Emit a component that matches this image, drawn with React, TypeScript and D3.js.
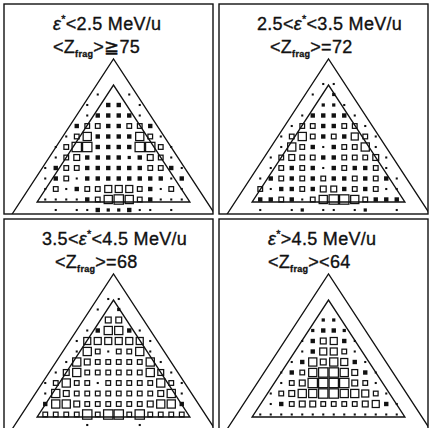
import React from "react";
import * as d3 from "d3";

// Box-histogram contents on the triangular grid, one string per row (top row first),
// one digit per column (18 columns, left to right). 0 = empty bin.
const ROWS_E_BELOW_2_5: string[] = [
  "000000000000000000",
  "000000010010000000",
  "000000103301000000",
  "000000133331000000",
  "000003443344300000",
  "000014733337410000",
  "000148833338841000",
  "000145333323541000",
  "001344333333443100",
  "001341333333331300",
  "001413446664314100",
  "001111347874311100",
  "000101132231101000",
];

const ROWS_E_2_5_TO_3_5: string[] = [
  "000000001100000000",
  "000000010200000000",
  "000000002210000000",
  "000000133331000000",
  "000001443344100000",
  "000014743436410000",
  "000017431344710000",
  "000145443344451000",
  "000143431343341000",
  "001343434334343100",
  "004133435534341100",
  "003343147887433300",
  "001001201101200100",
];

const ROWS_E_3_5_TO_4_5: string[] = [
  "000000001100000000",
  "000000010200000000",
  "000000005500000000",
  "000000137731000000",
  "000001666666100000",
  "000001741447100000",
  "000017544444710000",
  "000157444444751000",
  "001474414444474100",
  "001754444444457100",
  "003775444444577300",
  "004444848848444400",
  "000000100001000000",
];

const ROWS_E_ABOVE_4_5: string[] = [
  "000000000000000000",
  "000000000000000000",
  "000000002200000000",
  "000000023320000000",
  "000000135631000000",
  "000000136641000000",
  "000001375763100000",
  "000013478875310000",
  "000014588885410000",
  "000145778877641000",
  "000134554444563100",
  "001111111111111100",
  "000000000000000000",
];

// Panel captions: excitation-energy window and mean fragment charge
const EPS_PREFIX: string[] = ["", "2.5<", "3.5<", ""];
const EPS_SUFFIX: string[] = ["<2.5 MeV/u", "<3.5 MeV/u", "<4.5 MeV/u", ">4.5 MeV/u"];
const ZFRAG_RELATION: string[] = ["\u226775", "=72", "=68", "<64"];

const PANEL_ROWS: string[][] = [
  ROWS_E_BELOW_2_5,
  ROWS_E_2_5_TO_3_5,
  ROWS_E_3_5_TO_4_5,
  ROWS_E_ABOVE_4_5,
];

// Layout
const W = 431;
const H = 428;
const PANEL_W = 209;
const PANEL_H = 210;
const PANEL_ORIGINS: [number, number][] = [
  [4, 4],
  [219, 4],
  [4, 219],
  [219, 219],
];
const TITLE_X: [number, number][] = [
  [49, 49],
  [38, 51],
  [38, 51],
  [49, 49],
];
const TITLE_Y: [number, number] = [26, 49];
const CELL = 10.5;
const CX = 109.5;
const ROW0_Y = 80;
const SLOPE = 1.53; // rows per column along the triangle sides
const INNER_APEX_ROW = 0.1;
const INNER_BASE_ROW = 11.24;
const OUTER_APEX_ROW = -2.38;
const OUTER_LOW_ROW = 13.2;
const INK = "#111";
const FONT = "'Liberation Sans', Arial, Helvetica, sans-serif";

export default function App() {
  const xCol = d3.scaleLinear().domain([0, 1]).range([CX, CX + CELL]);
  const yRow = d3.scaleLinear().domain([0, 1]).range([ROW0_Y, ROW0_Y + CELL]);
  const side = d3.scaleLinear().domain([0, 9]).range([0, CELL]);
  const line = d3
    .line<[number, number]>()
    .x((d) => xCol(d[0]))
    .y((d) => yRow(d[1]));

  const innerHalf = (INNER_BASE_ROW - INNER_APEX_ROW) / SLOPE;
  const outerHalf = (OUTER_LOW_ROW - OUTER_APEX_ROW) / SLOPE;
  const innerPath =
    line([
      [-innerHalf, INNER_BASE_ROW],
      [0, INNER_APEX_ROW],
      [innerHalf, INNER_BASE_ROW],
    ]) + "Z";
  const outerPath = line([
    [-outerHalf, OUTER_LOW_ROW],
    [0, OUTER_APEX_ROW],
    [outerHalf, OUTER_LOW_ROW],
  ]);

  return (
    <svg
      width={W}
      height={H}
      viewBox={`0 0 ${W} ${H}`}
      style={{ position: "absolute", left: 0, top: 0, background: "#fff" }}
    >
      <rect x={0} y={0} width={W} height={H} fill="#fff" />
      <defs>
        <clipPath id="panel-clip">
          <rect x={0} y={0} width={PANEL_W} height={PANEL_H} />
        </clipPath>
      </defs>
      {PANEL_ROWS.map((rows, p) => {
        const [ox, oy] = PANEL_ORIGINS[p];
        const bins: { u: number; r: number; v: number }[] = [];
        rows.forEach((row, r) => {
          row.split("").forEach((ch, i) => {
            const v = +ch;
            if (v > 0) bins.push({ u: i - 8.5, r, v });
          });
        });
        return (
          <g key={p} transform={`translate(${ox},${oy})`}>
            <g clipPath="url(#panel-clip)">
              <path d={outerPath ?? ""} fill="none" stroke={INK} strokeWidth={1.3} />
              <path d={innerPath} fill="none" stroke={INK} strokeWidth={1.3} />
              {bins.map((b, j) => {
                const s = side(b.v);
                const x = xCol(b.u);
                const y = yRow(b.r);
                if (s < 3.6) {
                  const f = s + 0.9;
                  return (
                    <rect key={j} x={x - f / 2} y={y - f / 2} width={f} height={f} fill={INK} />
                  );
                }
                return (
                  <rect
                    key={j}
                    x={x - s / 2}
                    y={y - s / 2}
                    width={s}
                    height={s}
                    fill="none"
                    stroke={INK}
                    strokeWidth={1.25}
                  />
                );
              })}
            </g>
            <rect
              x={0}
              y={0}
              width={PANEL_W}
              height={PANEL_H}
              fill="none"
              stroke={INK}
              strokeWidth={1.4}
            />
            <text
              x={TITLE_X[p][0]}
              y={TITLE_Y[0]}
              fontSize={18}
              fontFamily={FONT}
              fill={INK}
              stroke={INK}
              strokeWidth={0.35}
              letterSpacing={0.3}
            >
              {EPS_PREFIX[p]}
              <tspan fontStyle="italic">ε</tspan>
              <tspan fontSize={11} dy={-7}>*</tspan>
              <tspan dy={7}>{EPS_SUFFIX[p]}</tspan>
            </text>
            <text
              x={TITLE_X[p][1]}
              y={TITLE_Y[1]}
              fontSize={18}
              fontFamily={FONT}
              fill={INK}
              stroke={INK}
              strokeWidth={0.35}
              letterSpacing={0.3}
            >
              {"<Z"}
              <tspan fontSize={9} fontWeight="bold" dy={4}>
                frag
              </tspan>
              <tspan dy={-4}>{">" + ZFRAG_RELATION[p]}</tspan>
            </text>
          </g>
        );
      })}
    </svg>
  );
}
